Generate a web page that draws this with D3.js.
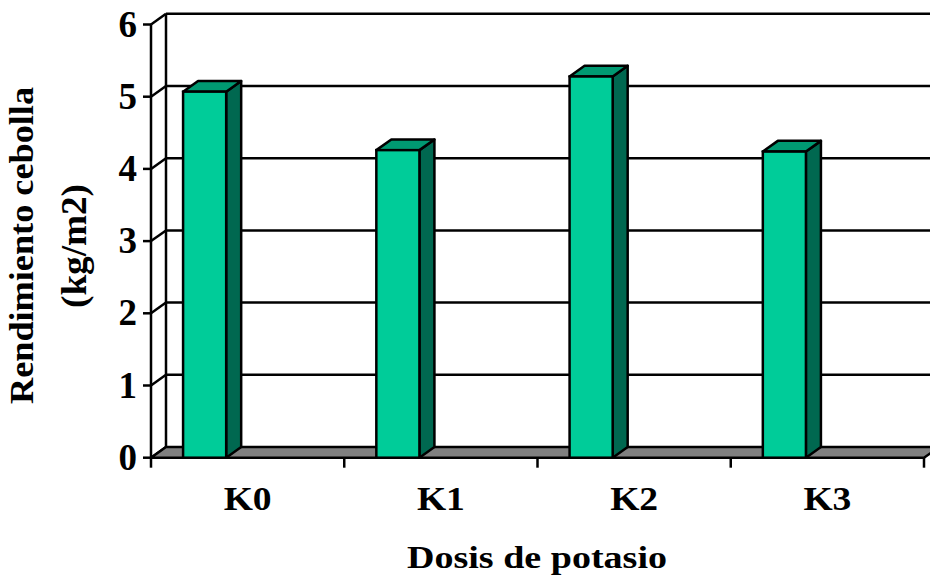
<!DOCTYPE html>
<html>
<head>
<meta charset="utf-8">
<script src="https://cdn.jsdelivr.net/npm/d3@7"></script>
<style>
  body { margin: 0; background: #fff; }
  text { font-family: "Liberation Serif", "Times New Roman", serif; font-weight: bold; fill: #000; }
</style>
</head>
<body>
<div id="chart"></div>
<script>
// data
const categories = ["K0", "K1", "K2", "K3"];
const values = [5.07, 4.26, 5.28, 4.24];
const yTicks = [0, 1, 2, 3, 4, 5, 6];
const xTitle = "Dosis de potasio";
const yTitle = ["Rendimiento cebolla", "(kg/m2)"];

const W = 930, H = 584;
const dx = 15, dy = -10.7; // depth offset of the 3d box

const svg = d3.select("#chart").append("svg")
  .attr("width", W)
  .attr("height", H);

const x = d3.scaleBand().domain(categories).range([151, 924]).padding(0);
const y = d3.scaleLinear().domain([0, 6]).range([457.7, 24.5]);

const x0 = x.range()[0], x1 = x.range()[1];

// back wall gridlines
svg.selectAll(".grid")
  .data(yTicks.filter(d => d > 0))
  .enter().append("line")
  .attr("x1", x0 + dx).attr("x2", W + 20)
  .attr("y1", d => y(d) + dy).attr("y2", d => y(d) + dy)
  .attr("stroke", "#000").attr("stroke-width", 2.5);

// left wall edge
svg.append("line")
  .attr("x1", x0 + dx).attr("x2", x0 + dx)
  .attr("y1", y(6) + dy).attr("y2", y(0) + dy)
  .attr("stroke", "#000").attr("stroke-width", 2.5);

// diagonals from front axis to back wall
svg.selectAll(".diag")
  .data(yTicks)
  .enter().append("line")
  .attr("x1", x0).attr("y1", d => y(d))
  .attr("x2", x0 + dx).attr("y2", d => y(d) + dy)
  .attr("stroke", "#000").attr("stroke-width", 2.5);

// floor
svg.append("path")
  .attr("d", `M${x0},${y(0)} L${x1},${y(0)} L${x1 + dx},${y(0) + dy} L${x0 + dx},${y(0) + dy} Z`)
  .attr("fill", "#808080")
  .attr("stroke", "#000").attr("stroke-width", 2.5)
  .attr("stroke-linejoin", "round");

// front y axis
svg.append("line")
  .attr("x1", x0).attr("x2", x0)
  .attr("y1", y(6)).attr("y2", y(0))
  .attr("stroke", "#000").attr("stroke-width", 2.5);

svg.selectAll(".ytick")
  .data(yTicks)
  .enter().append("line")
  .attr("x1", x0 - 8).attr("x2", x0)
  .attr("y1", d => y(d)).attr("y2", d => y(d))
  .attr("stroke", "#000").attr("stroke-width", 2.5);

svg.selectAll(".ylab")
  .data(yTicks)
  .enter().append("text")
  .attr("x", 137)
  .attr("y", d => y(d) + 12)
  .attr("text-anchor", "end")
  .attr("font-size", 37)
  .text(d => d);

// x axis ticks
const xTickPos = categories.map(c => x(c)).concat([x1]);
svg.selectAll(".xtick")
  .data(xTickPos)
  .enter().append("line")
  .attr("x1", d => d).attr("x2", d => d)
  .attr("y1", y(0)).attr("y2", y(0) + 10)
  .attr("stroke", "#000").attr("stroke-width", 2.5);

svg.selectAll(".xlab")
  .data(categories)
  .enter().append("text")
  .attr("x", d => x(d) + x.bandwidth() / 2 - 24)
  .attr("y", 510)
  .attr("font-size", 33)
  .attr("textLength", 48)
  .attr("lengthAdjust", "spacingAndGlyphs")
  .text(d => d);

// bars
const bw = x.bandwidth() * 0.223;
const off = x.bandwidth() * 0.166;
const bars = svg.selectAll(".bar")
  .data(categories.map((c, i) => ({ c, v: values[i] })))
  .enter().append("g");

bars.append("path") // side
  .attr("d", d => {
    const l = x(d.c) + off + bw, t = y(d.v), b = y(0);
    return `M${l},${b} L${l + dx},${b + dy} L${l + dx},${t + dy} L${l},${t} Z`;
  })
  .attr("fill", "#006850").attr("stroke", "#000").attr("stroke-width", 2.5)
  .attr("stroke-linejoin", "round");

bars.append("path") // top
  .attr("d", d => {
    const l = x(d.c) + off, t = y(d.v);
    return `M${l},${t} L${l + bw},${t} L${l + bw + dx},${t + dy} L${l + dx},${t + dy} Z`;
  })
  .attr("fill", "#009a72").attr("stroke", "#000").attr("stroke-width", 2.5)
  .attr("stroke-linejoin", "round");

bars.append("rect") // front
  .attr("x", d => x(d.c) + off)
  .attr("y", d => y(d.v))
  .attr("width", bw)
  .attr("height", d => y(0) - y(d.v))
  .attr("fill", "#00cc99").attr("stroke", "#000").attr("stroke-width", 2.5);

// titles
svg.append("text")
  .attr("x", 407).attr("y", 568)
  .attr("font-size", 32)
  .attr("textLength", 260)
  .attr("lengthAdjust", "spacingAndGlyphs")
  .text(xTitle);

const yt = svg.append("g")
  .attr("transform", "translate(0,246) rotate(-90)");
yt.append("text")
  .attr("x", -158).attr("y", 33)
  .attr("font-size", 34)
  .attr("textLength", 317)
  .attr("lengthAdjust", "spacingAndGlyphs")
  .text(yTitle[0]);
yt.append("text")
  .attr("x", -62).attr("y", 86)
  .attr("font-size", 35)
  .attr("textLength", 124)
  .attr("lengthAdjust", "spacingAndGlyphs")
  .text(yTitle[1]);
</script>
</body>
</html>
